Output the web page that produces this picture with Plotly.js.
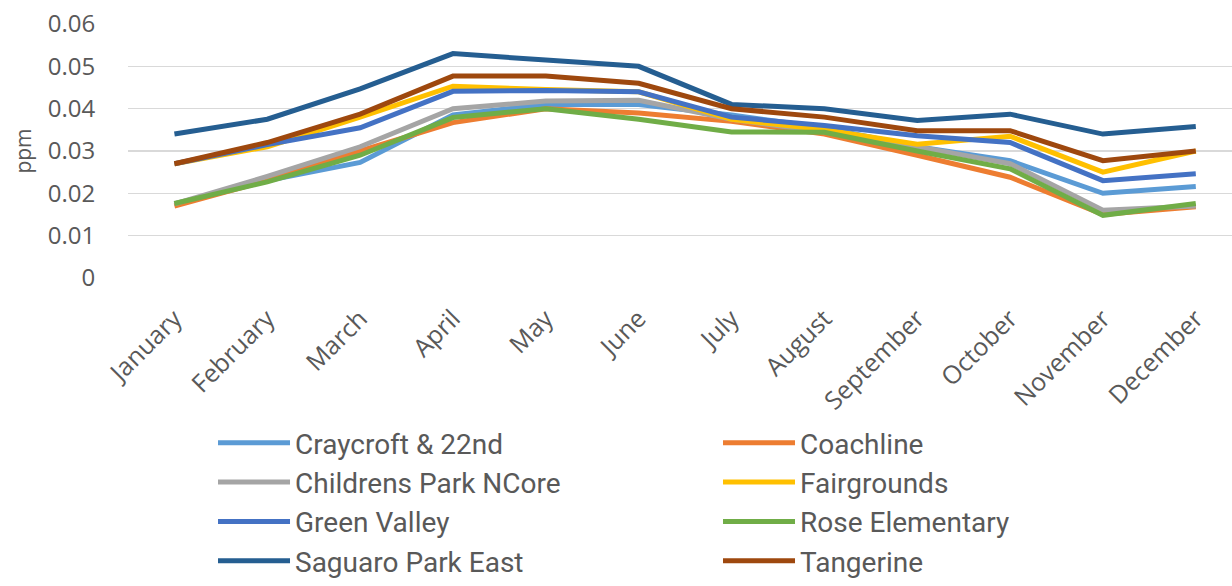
<!DOCTYPE html>
<html>
<head>
<meta charset="utf-8">
<script src="https://cdn.plot.ly/plotly-3.0.1.min.js"></script>
<style>html,body{margin:0;padding:0;background:#fff;overflow:hidden}#chart{width:1232px;height:586px}</style>
</head>
<body>
<div id="chart"></div>
<script>
const months = ["January","February","March","April","May","June","July","August","September","October","November","December"];
const stationNames = ["Craycroft & 22nd","Coachline","Childrens Park NCore","Fairgrounds","Green Valley","Rose Elementary","Saguaro Park East","Tangerine"];
const craycroft   = [0.0175,0.023,0.0273,0.0385,0.041,0.041,0.0385,0.0355,0.031,0.0277,0.020,0.0216];
const coachline   = [0.017,0.023,0.030,0.0367,0.040,0.039,0.037,0.034,0.029,0.0238,0.015,0.0168];
const childrens   = [0.0175,0.024,0.031,0.040,0.0418,0.042,0.0375,0.0345,0.031,0.027,0.016,0.017];
const fairgrounds = [0.027,0.031,0.038,0.0453,0.0445,0.044,0.0375,0.035,0.0316,0.0335,0.025,0.030];
const greenValley = [0.027,0.0315,0.0355,0.0441,0.0443,0.044,0.038,0.036,0.0336,0.032,0.023,0.0246];
const rose        = [0.0176,0.0227,0.029,0.0379,0.040,0.0375,0.0345,0.0344,0.030,0.0258,0.0148,0.0176];
const saguaro     = [0.034,0.0375,0.0447,0.053,0.0515,0.050,0.041,0.040,0.0372,0.0387,0.034,0.0358];
const tangerine   = [0.027,0.032,0.0387,0.0477,0.0477,0.046,0.040,0.038,0.0348,0.0348,0.0277,0.030];
const yTickVals = [0,0.01,0.02,0.03,0.04,0.05,0.06];
const yTickText = ["0","0.01","0.02","0.03","0.04","0.05","0.06"];

const seriesValues = [craycroft,coachline,childrens,fairgrounds,greenValley,rose,saguaro,tangerine];
const colors = ["#5B9BD5","#ED7D31","#A5A5A5","#FFC000","#4472C4","#70AD47","#255E91","#9E480E"];

const traces = seriesValues.map((vals,i)=>({
  type:"scatter", mode:"lines", name:stationNames[i],
  x:months, y:vals,
  line:{color:colors[i], width:5, shape:"linear"},
  hoverinfo:"skip"
}));

const txt = "#595959";
const layout = {
  width:1232, height:586,
  margin:{l:128, r:0, t:24, b:306, pad:0},
  paper_bgcolor:"#fff", plot_bgcolor:"#fff",
  font:{family:"Open Sans, sans-serif", color:txt, size:20},
  showlegend:true,
  xaxis:{
    type:"category", range:[-0.5,11.39],
    showgrid:false, zeroline:false, showline:false,
    tickangle:-45, ticks:"outside", ticklen:15, tickcolor:"rgba(0,0,0,0)",
    tickfont:{family:"Open Sans, sans-serif", size:25, color:txt}
  },
  yaxis:{
    range:[0,0.06], tickvals:yTickVals, ticktext:yTickText,
    showgrid:true, gridcolor:"#D9D9D9", gridwidth:1.5,
    zeroline:false, showline:false,
    ticks:"outside", ticklen:27, tickcolor:"rgba(0,0,0,0)",
    tickfont:{family:"Open Sans, sans-serif", size:24, color:txt},
    title:{text:"ppm", font:{family:"Open Sans, sans-serif", size:21, color:txt}, standoff:10}
  },
  legend:{
    orientation:"h", x:0.077, xanchor:"left", y:-0.551, yanchor:"top",
    entrywidth:418, entrywidthmode:"pixels", itemwidth:72,
    font:{family:"Roboto, sans-serif", size:28, color:txt},
    bgcolor:"rgba(0,0,0,0)", traceorder:"normal"
  }
};

Plotly.newPlot("chart", traces, layout, {displayModeBar:false, staticPlot:true});
</script>
</body>
</html>
